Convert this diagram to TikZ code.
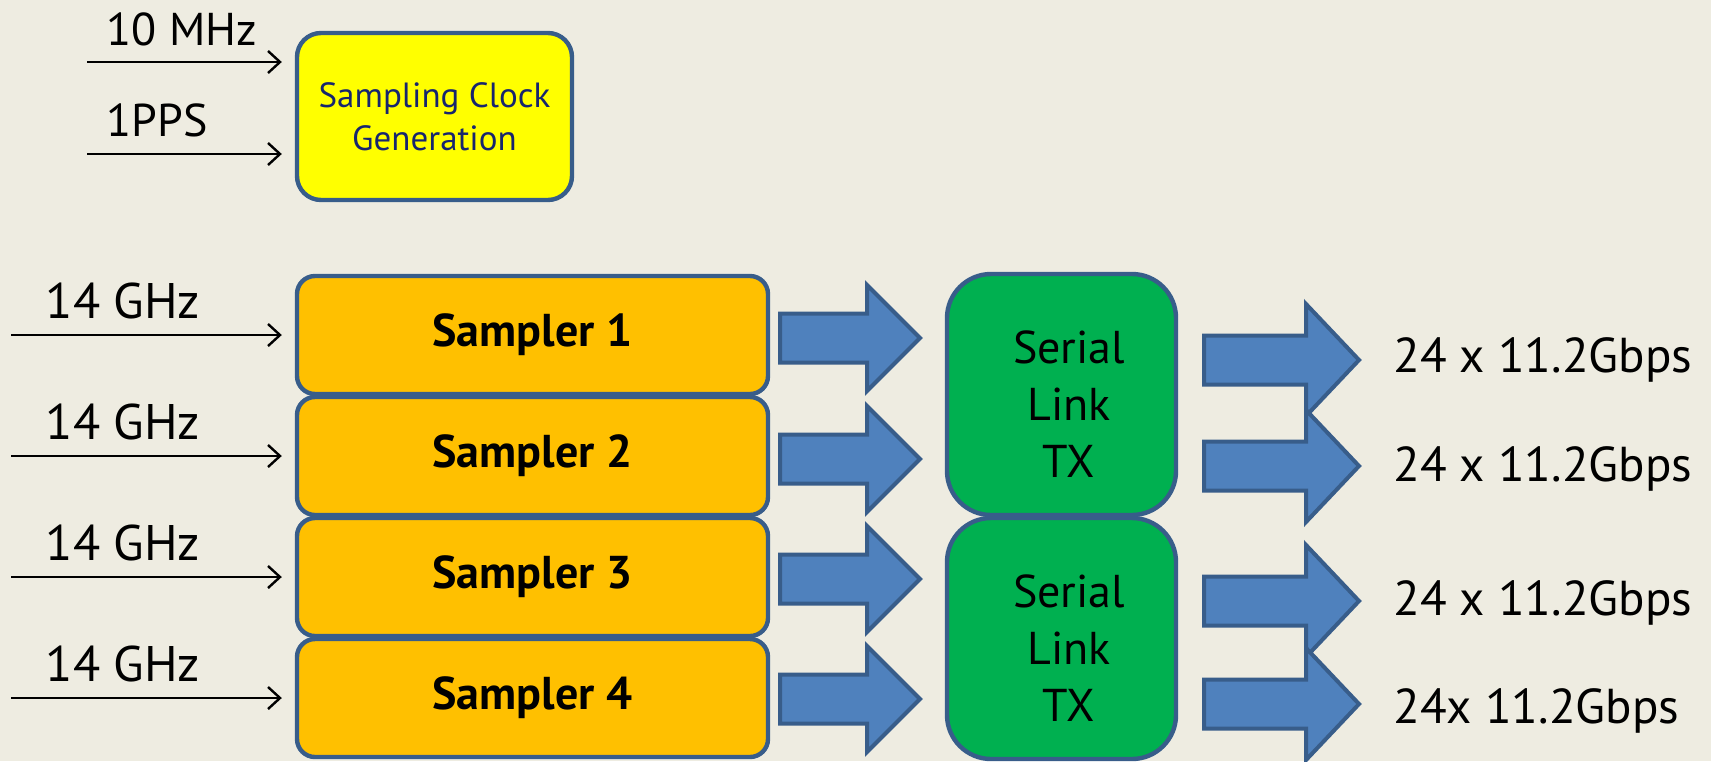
\documentclass[tikz,border=0pt]{standalone}
\usepackage{fontspec}
\setmainfont{PT Sans}
\usetikzlibrary{arrows.meta,positioning}
\definecolor{slidebg}{HTML}{EEECE1}
\definecolor{edgeblue}{HTML}{385D8A}
\definecolor{arrowblue}{HTML}{4F81BD}
\definecolor{clockyellow}{HTML}{FFFF00}
\definecolor{clocknavy}{RGB}{23,37,110}
\definecolor{sampamber}{HTML}{FFC000}
\definecolor{sergreen}{HTML}{00B050}
% fat block arrow: x start, x head base, x tip, y centre, shaft half, head half
\newcommand{\fatarrow}[6]{%
  \draw[fat] (#1,{#4-#5}) -- (#2,{#4-#5}) -- (#2,{#4-#6}) -- (#3,#4)
    -- (#2,{#4+#6}) -- (#2,{#4+#5}) -- (#1,{#4+#5}) -- cycle;}

\begin{document}
\begin{tikzpicture}[x=0.5pt,y=-0.5pt,
    blk/.style={draw=edgeblue, line width=2.2pt, align=center, inner sep=0pt},
    clockbox/.style={blk, fill=clockyellow, rounded corners=12pt, minimum width=137.5pt, minimum height=83.5pt, text=clocknavy, font=\fontsize{17.5}{21.5}\selectfont},
    sampbox/.style={blk, fill=sampamber, rounded corners=9pt, minimum width=235.5pt, minimum height=59pt, font=\fontsize{23}{27}\selectfont\bfseries},
    serbox/.style={blk, fill=sergreen, rounded corners=22pt, minimum width=114.5pt, minimum height=120.5pt},
    sertxt/.style={align=center, inner sep=0pt, font=\fontsize{23}{28.5}\selectfont},
    lbl/.style={inner sep=0pt, font=\fontsize{23}{27}\selectfont},
    inlbl/.style={lbl, font=\fontsize{25}{29}\selectfont},
    outlbl/.style={lbl, anchor=west, font=\fontsize{24.5}{29}\selectfont},
    arr/.style={-{Straight Barb[length=6pt,width=11pt]}, line width=1.2pt, shorten >=6.5pt},
    fat/.style={draw=edgeblue, fill=arrowblue, line width=2pt, line join=miter}
]
\useasboundingbox (0,0) rectangle (1711,761);
\fill[slidebg] (0,0) rectangle (1711,761);

% clock generation
\node[clockbox] (clk) at (434.5,116.5) {Sampling Clock\\Generation};
\coordinate (ref10) at (87,62);
\coordinate (refpps) at (87,154);
\node[lbl] (l10) at (182,29) {10 MHz};
\node[lbl] (lpps) at (157,120) {1PPS};
\draw[arr] (ref10) -- (ref10 -| clk.west);
\draw[arr] (refpps) -- (refpps -| clk.west);

% samplers
\node[sampbox] (s1) at (532.5,335) {Sampler 1};
\node[sampbox] (s2) at (532.5,456) {Sampler 2};
\node[sampbox] (s3) at (532.5,577) {Sampler 3};
\node[sampbox] (s4) at (532.5,698) {Sampler 4};
\coordinate (in1) at (11,335);
\coordinate (in2) at (11,456);
\coordinate (in3) at (11,577);
\coordinate (in4) at (11,698);
\node[inlbl] (g1) at (123,301) {14 GHz};
\node[inlbl] (g2) at (123,422) {14 GHz};
\node[inlbl] (g3) at (123,543) {14 GHz};
\node[inlbl] (g4) at (123,664) {14 GHz};
\draw[arr] (in1) -- (s1);
\draw[arr] (in2) -- (s2);
\draw[arr] (in3) -- (s3);
\draw[arr] (in4) -- (s4);

% serial links
\node[serbox] (tx1) at (1061.5,394.5) {};
\node[serbox] (tx2) at (1061.5,638.5) {};
\node[sertxt] (tx1t) at (1069,404) {Serial\\Link\\TX};
\node[sertxt] (tx2t) at (1069,648) {Serial\\Link\\TX};

\fatarrow{780}{867}{920}{338}{24.5}{53}
\fatarrow{780}{867}{920}{459}{24.5}{53}
\fatarrow{780}{867}{920}{579}{24.5}{53}
\fatarrow{780}{867}{920}{699}{24.5}{53}

\fatarrow{1204}{1306}{1359}{360}{24.5}{56}
\fatarrow{1204}{1306}{1359}{466}{24.5}{56}
\fatarrow{1204}{1306}{1359}{601}{24.5}{56}
\fatarrow{1204}{1306}{1359}{704}{24.5}{56}

\node[outlbl] (o1) at (1393,360) {24 x 11.2Gbps};
\node[outlbl] (o2) at (1393,469) {24 x 11.2Gbps};
\node[outlbl] (o3) at (1393,603) {24 x 11.2Gbps};
\node[outlbl] (o4) at (1393,711) {24x 11.2Gbps};
\end{tikzpicture}
\end{document}
